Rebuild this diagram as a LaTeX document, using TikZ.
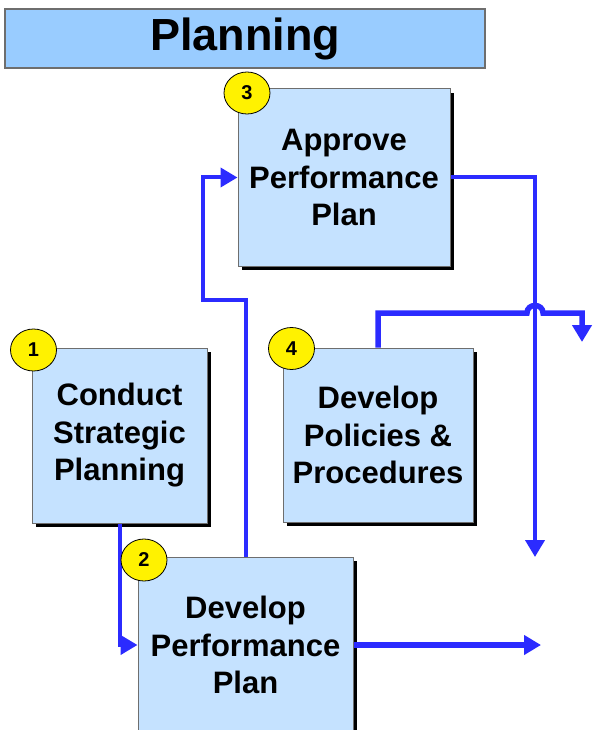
\documentclass[tikz,border=0pt]{standalone}
\usepackage{fontspec}
\setmainfont{Liberation Sans}
\usetikzlibrary{arrows.meta,shapes.geometric}
\definecolor{titlefill}{RGB}{153,204,255}
\definecolor{boxfill}{RGB}{197,226,255}
\definecolor{conn}{RGB}{43,43,255}
\definecolor{edgegray}{RGB}{110,110,110}
\tikzset{
  procbox/.style={draw=edgegray, line width=1pt, fill=boxfill, align=center,
    font=\fontsize{31}{37.5}\selectfont\bfseries, inner sep=0pt,
    preaction={fill=black, transform canvas={shift={(4pt,-4pt)}}}},
  badge/.style={ellipse, draw=black, line width=0.8pt, fill=yellow, minimum width=46pt,
    minimum height=42pt, inner sep=0pt, font=\fontsize{20}{20}\selectfont\bfseries},
  flow/.style={draw=conn, line width=4pt, -{Triangle[length=17pt,width=19pt]}},
  thickflow/.style={flow, line width=5.5pt}
}
\begin{document}
\begin{tikzpicture}[x=1pt,y=-1pt]
\useasboundingbox (0,0) rectangle (592,730);
\begin{scope}
\clip (0,0) rectangle (592,730);
% title
\node[draw=edgegray, line width=1.2pt, fill=titlefill, minimum width=480pt, minimum height=59pt,
  inner sep=0pt, font=\fontsize{45}{45}\selectfont\bfseries] (title) at (245,38.5) {Planning};
% boxes
\node[procbox, minimum width=212pt, minimum height=177pt] (b3) at (344,177.5) {Approve\\Performance\\Plan};
\node[procbox, minimum width=175pt, minimum height=175pt] (b1) at (119.5,435.5) {Conduct\\Strategic\\Planning};
\node[procbox, minimum width=190pt, minimum height=174pt] (b4) at (378,435) {Develop\\Policies \&\\Procedures};
\node[procbox, minimum width=215pt, minimum height=176pt] (b2) at (245.5,645) {Develop\\Performance\\Plan};
% coordinates
\coordinate (c2a) at (203,300);
\coordinate (d3) at (535,557);
\coordinate (j1) at (527,313);
\coordinate (j2) at (543,313);
\coordinate (e4) at (582,342);
\coordinate (e2) at (541,645);
% connectors
\draw[flow] (b1.south) |- (b2.west);
\draw[flow] (b2.north) |- (c2a) |- (b3.west);
\draw[flow] (b3.east) -| (d3);
\draw[thickflow, line join=miter] (b4.north) |- (j1) .. controls (527,303) and (543,303) .. (j2) -| (e4);
\draw[thickflow] (b2.east) -- (e2);
% badges
\node[badge] (n1) at (33.5,350) {1};
\node[badge] (n2) at (144,560) {2};
\node[badge] (n3) at (247,93) {3};
\node[badge] (n4) at (291.5,348.5) {4};
\end{scope}
\end{tikzpicture}
\end{document}
